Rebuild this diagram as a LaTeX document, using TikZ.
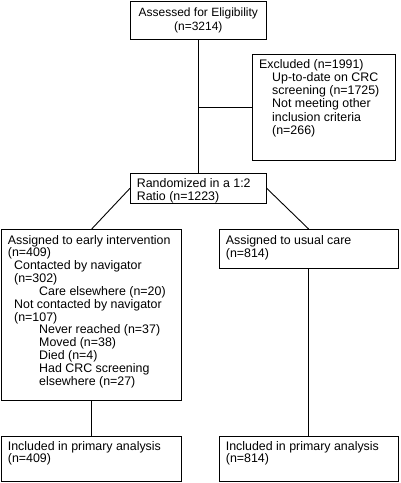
\documentclass[tikz,border=0pt]{standalone}
\usepackage{fontspec}
\setmainfont{Liberation Sans}
\begin{document}
\begin{tikzpicture}[x=1pt,y=-1pt,
  box/.style={draw, line width=0.9pt, inner sep=0pt, outer sep=0pt, anchor=north west},
  txt/.style={inner sep=0pt, anchor=base west, font=\fontsize{12.4}{13}\selectfont},
  conn/.style={line width=0.9pt}]
\useasboundingbox (0,0) rectangle (400,483);
% boxes
\node[box, minimum width=136.7pt, minimum height=37.6pt] (assess) at (130,1.7) {};
\node[box, minimum width=142.7pt, minimum height=105.7pt] (excl) at (252.3,54.3) {};
\node[box, minimum width=136.7pt, minimum height=30pt] (rand) at (130,173.3) {};
\node[box, minimum width=180pt, minimum height=171pt] (early) at (1.7,229) {};
\node[box, minimum width=179.3pt, minimum height=39.3pt] (usual) at (219,229) {};
\node[box, minimum width=180pt, minimum height=45.7pt] (inclL) at (1.7,436) {};
\node[box, minimum width=179.3pt, minimum height=45.7pt] (inclR) at (219,436) {};
% texts
\node[txt, anchor=base, font=\fontsize{12}{14}\selectfont] (assesst) at (198.3,16) {\begin{tabular}[t]{@{}c@{}}Assessed for Eligibility\\(n=3214)\end{tabular}};
\node[txt, font=\fontsize{12.4}{13.3}\selectfont] (exclt) at (259,68) {\begin{tabular}[t]{@{}l@{}}Excluded (n=1991)\\
\hspace*{13pt}Up-to-date on CRC\\
\hspace*{13pt}screening (n=1725)\\
\hspace*{13pt}Not meeting other\\
\hspace*{13pt}inclusion criteria\\
\hspace*{13pt}(n=266)\end{tabular}};
\node[txt] (randt) at (136.7,187.5) {\begin{tabular}[t]{@{}l@{}}Randomized in a 1:2\\Ratio (n=1223)\end{tabular}};
\node[txt, font=\fontsize{12.4}{12.85}\selectfont] (earlyt) at (7.7,244) {\begin{tabular}[t]{@{}l@{}}Assigned to early intervention\\
(n=409)\\
\hspace*{6.3pt}Contacted by navigator\\
\hspace*{6.3pt}(n=302)\\
\hspace*{31.3pt}Care elsewhere (n=20)\\
\hspace*{6.3pt}Not contacted by navigator\\
\hspace*{6.3pt}(n=107)\\
\hspace*{31.3pt}Never reached (n=37)\\
\hspace*{31.3pt}Moved (n=38)\\
\hspace*{31.3pt}Died (n=4)\\
\hspace*{31.3pt}Had CRC screening\\
\hspace*{31.3pt}elsewhere (n=27)\end{tabular}};
\node[txt] (usualt) at (225.7,244) {\begin{tabular}[t]{@{}l@{}}Assigned to usual care\\(n=814)\end{tabular}};
\node[txt, font=\fontsize{12.4}{12.5}\selectfont] (inclLt) at (7.7,450) {\begin{tabular}[t]{@{}l@{}}Included in primary analysis\\(n=409)\end{tabular}};
\node[txt, font=\fontsize{12.4}{12.5}\selectfont] (inclRt) at (225.7,450) {\begin{tabular}[t]{@{}l@{}}Included in primary analysis\\(n=814)\end{tabular}};
% connectors
\draw[conn] (assess.south) -- (rand.north);
\coordinate (branch) at (assess.south |- excl.west);
\draw[conn] (branch) -- (excl.west);
\draw[conn] (rand.west) -- (early.north);
\draw[conn] (rand.east) -- (usual.north);
\draw[conn] (early.south) -- (inclL.north);
\draw[conn] (usual.south) -- (inclR.north);
\end{tikzpicture}
\end{document}
